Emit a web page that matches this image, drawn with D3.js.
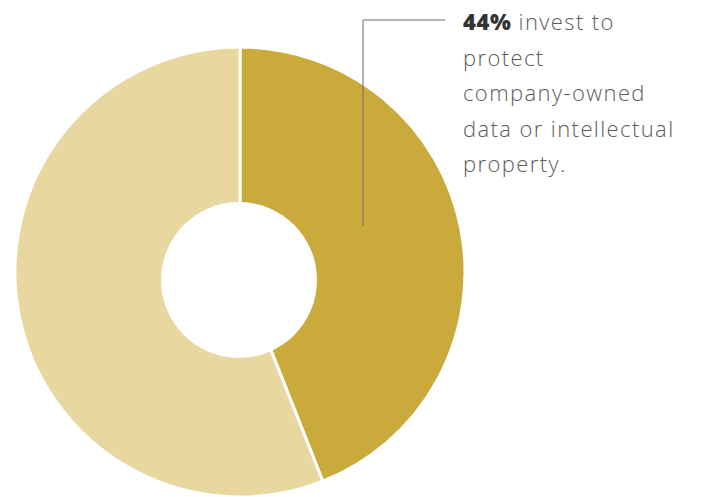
<!DOCTYPE html>
<html>
<head>
<meta charset="utf-8">
<script src="https://cdn.jsdelivr.net/npm/d3@7"></script>
<style>
  html, body { margin: 0; padding: 0; background: #fff; }
  svg { display: block; }
</style>
</head>
<body>
<svg id="chart" width="704" height="497"></svg>
<script>
// Share of companies by investment motive
const categories = ["Protect company-owned data or IP", "Other"];
const values = [44, 56];
const colors = ["#c9aa3b", "#e8d79f"];
const calloutBold = "44%";
const calloutLines = [" invest to", "protect", "company-owned", "data or intellectual", "property."];

const svg = d3.select("#chart");
const cx = 240, cy = 272, outerR = 225;
const hole = { x: 239, y: 280, r: 78 };

const pie = d3.pie().sort(null).value(d => d)(values);
const arc = d3.arc().innerRadius(0).outerRadius(outerR);

const g = svg.append("g").attr("transform", `translate(${cx},${cy})`);
g.selectAll("path.slice")
  .data(pie)
  .join("path")
  .attr("class", "slice")
  .attr("d", arc)
  .attr("fill", (d, i) => colors[i])
  .attr("stroke", "#fff")
  .attr("stroke-width", 3)
  .attr("stroke-linejoin", "round");

// center hole
svg.append("circle")
  .attr("cx", hole.x).attr("cy", hole.y).attr("r", hole.r)
  .attr("fill", "#fff");

// leader line for the callout
svg.append("path")
  .attr("d", "M445,20 H363 V226")
  .attr("fill", "none")
  .attr("stroke", "#6a6a6a")
  .attr("stroke-width", 1);

const text = svg.append("text")
  .attr("x", 463)
  .attr("y", 30)
  .attr("font-family", "'Open Sans', Lato, sans-serif")
  .attr("font-size", 22)
  .attr("font-weight", 300)
  .attr("letter-spacing", 1.4)
  .attr("fill", "#5c5c5c");

const lineH = 35.5;
calloutLines.forEach((line, i) => {
  if (i === 0) {
    text.append("tspan")
      .attr("x", 463).attr("y", 30)
      .attr("font-weight", 800)
      .attr("letter-spacing", 0.6)
      .attr("fill", "#333")
      .text(calloutBold);
    text.append("tspan").text(line);
  } else {
    text.append("tspan")
      .attr("x", 463)
      .attr("y", 30 + i * lineH)
      .text(line);
  }
});
</script>
</body>
</html>
